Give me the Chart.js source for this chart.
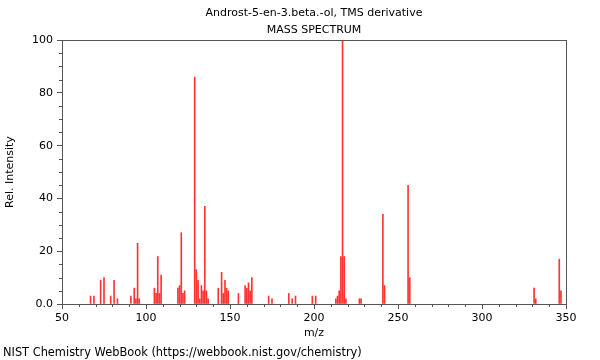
<!DOCTYPE html>
<html>
<head>
<meta charset="utf-8">
<script src="https://cdn.jsdelivr.net/npm/chart.js@4/dist/chart.umd.min.js"></script>
<style>
  html, body { margin: 0; padding: 0; background: #fff; }
  #wrap { position: relative; width: 600px; height: 360px; }
  #footer {
    position: absolute; left: 3px; top: 345px;
    font: 11.4px "DejaVu Sans", sans-serif; color: #000; white-space: nowrap;
  }
</style>
</head>
<body>
<div id="wrap">
  <canvas id="myChart" width="600" height="360"></canvas>
  <div id="footer">NIST Chemistry WebBook (https://webbook.nist.gov/chemistry)</div>
</div>
<script>
const titleLines = ['Androst-5-en-3.beta.-ol, TMS derivative', 'MASS SPECTRUM']
const mz = [67, 69, 73, 75, 79, 81, 83, 91, 93, 94, 95, 96, 105, 106, 107, 108, 109,
  119, 120, 121, 122, 123, 129, 130, 131, 132, 133, 134, 135, 136, 137,
  143, 145, 146, 147, 148, 149, 155, 159, 160, 161, 162, 163, 173, 175,
  185, 187, 189, 199, 201, 213, 214, 215, 216, 217, 218, 219, 227, 228,
  241, 242, 256, 257, 331, 332, 346, 347]
const intensity = [3, 3, 9, 10, 3, 9, 2, 3, 6, 2, 23, 2, 6, 4, 18, 4, 11,
  6, 7, 27, 4, 5, 86, 13, 9, 2, 7, 5, 37, 5, 2,
  6, 12, 4, 9, 6, 5, 4, 7, 6, 8, 5, 10, 3, 2,
  4, 2, 3, 3, 3, 2, 3, 5, 18, 100, 18, 2, 2, 2,
  34, 7, 45, 10, 6, 2, 17, 5]
const xTicks = [50, 100, 150, 200, 250, 300, 350]
const yTicks = [0, 20, 40, 60, 80, 100]

const axisColor = '#555'
const font = { family: 'DejaVu Sans', size: 11 }

// minor ticks + box frame
const frame = {
  id: 'frame',
  afterDraw(chart) {
    const { ctx, chartArea: a, scales: { x, y } } = chart
    ctx.save()
    ctx.strokeStyle = axisColor
    ctx.lineWidth = 1
    ctx.beginPath()
    for (let v = 50; v <= 350; v += 10) {
      if (v % 50 === 0) continue
      const px = Math.round(x.getPixelForValue(v)) + 0.5
      ctx.moveTo(px, a.bottom)
      ctx.lineTo(px, a.bottom + 3)
    }
    for (let v = 0; v <= 100; v += 5) {
      if (v % 20 === 0) continue
      const py = Math.round(y.getPixelForValue(v)) + 0.5
      ctx.moveTo(a.left, py)
      ctx.lineTo(a.left - 3, py)
    }
    ctx.stroke()
    ctx.strokeRect(Math.round(a.left) + 0.5, Math.round(a.top) + 0.5,
      Math.round(a.right - a.left), Math.round(a.bottom - a.top))
    ctx.restore()
  },
}

const ctx = document.getElementById('myChart').getContext('2d')
const myChart = new Chart(ctx, {
  type: 'bar',
  data: {
    datasets: [
      {
        data: mz.map((m, i) => ({ x: m, y: intensity[i] })),
        backgroundColor: 'rgba(255, 0, 0, 0.8)',
        barThickness: 1,
        grouped: false,
      },
    ],
  },
  options: {
    responsive: false,
    animation: false,
    layout: { padding: { left: 0, right: 34, top: 0, bottom: 0 } },
    plugins: {
      legend: { display: false },
      tooltip: { enabled: false },
      title: {
        display: true,
        fullSize: false,
        text: titleLines,
        color: '#000',
        font: { family: 'DejaVu Sans', size: 11, weight: 'normal', lineHeight: 1.55 },
        padding: { top: 5, bottom: 1 },
      },
    },
    scales: {
      x: {
        type: 'linear',
        offset: false,
        min: 50,
        max: 350,
        afterFit: (s) => { s.height = 56 },
        afterBuildTicks: (s) => { s.ticks = xTicks.map((v) => ({ value: v })) },
        ticks: { color: '#000', font, padding: 3, maxRotation: 0 },
        grid: { offset: false, drawOnChartArea: false, tickLength: 5, color: axisColor, tickColor: axisColor },
        border: { color: axisColor },
        title: { display: true, text: 'm/z', color: '#000', font, padding: { top: 0, bottom: 20 } },
      },
      y: {
        min: 0,
        max: 100,
        afterFit: (s) => { s.width = 62 },
        afterBuildTicks: (s) => { s.ticks = yTicks.map((v) => ({ value: v })) },
        ticks: { color: '#000', font, padding: 4, callback: (v) => (v === 0 ? '0.0' : v) },
        grid: { drawOnChartArea: false, tickLength: 5, color: axisColor, tickColor: axisColor },
        border: { color: axisColor },
        title: { display: true, text: 'Rel. Intensity', color: '#000', font, padding: { top: 4, bottom: 0 } },
      },
    },
  },
  plugins: [frame],
})
</script>
</body>
</html>
